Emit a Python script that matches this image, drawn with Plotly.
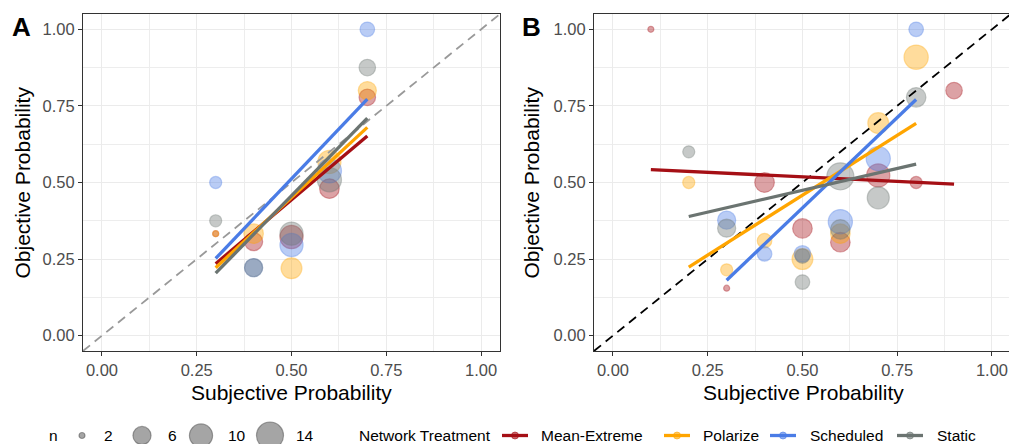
import numpy as np
import plotly.graph_objects as go

# ---------------- data ----------------
treatments = ["Mean-Extreme", "Polarize", "Scheduled", "Static"]
colors = ["#A50F15", "#FFA500", "#4A7CE6", "#6B7471"]

# Panel A (x = subjective probability, y = objective probability, n = count)
A_x = {
    "Mean-Extreme": [0.3, 0.4, 0.5, 0.6, 0.7],
    "Polarize":     [0.3, 0.4, 0.5, 0.6, 0.7],
    "Scheduled":    [0.3, 0.4, 0.5, 0.6, 0.7],
    "Static":       [0.3, 0.4, 0.5, 0.6, 0.7],
}
A_y = {
    "Mean-Extreme": [0.333, 0.307, 0.322, 0.480, 0.778],
    "Polarize":     [0.333, 0.333, 0.220, 0.567, 0.800],
    "Scheduled":    [0.500, 0.222, 0.296, 0.538, 1.000],
    "Static":       [0.375, 0.222, 0.333, 0.509, 0.875],
}
A_n = {
    "Mean-Extreme": [2, 6, 10, 7, 5],
    "Polarize":     [2, 7, 8, 10, 6],
    "Scheduled":    [3, 6, 10, 11, 4],
    "Static":       [3, 6, 10, 11, 5],
}
# fitted lines (x start, x end / y start, y end)
A_fit_x = {t: [0.3, 0.7] for t in treatments}
A_fit_y = {
    "Mean-Extreme": [0.235, 0.652],
    "Polarize":     [0.222, 0.680],
    "Scheduled":    [0.252, 0.772],
    "Static":       [0.204, 0.710],
}

# Panel B
B_x = {
    "Mean-Extreme": [0.1, 0.3, 0.4, 0.5, 0.6, 0.7, 0.8, 0.9],
    "Polarize":     [0.2, 0.3, 0.4, 0.5, 0.6, 0.7, 0.8],
    "Scheduled":    [0.3, 0.4, 0.5, 0.6, 0.7, 0.8],
    "Static":       [0.2, 0.3, 0.5, 0.5, 0.6, 0.6, 0.7, 0.8],
}
B_y = {
    "Mean-Extreme": [1.000, 0.155, 0.500, 0.350, 0.305, 0.523, 0.500, 0.800],
    "Polarize":     [0.500, 0.215, 0.310, 0.250, 0.333, 0.694, 0.909],
    "Scheduled":    [0.377, 0.267, 0.267, 0.372, 0.578, 1.000],
    "Static":       [0.600, 0.351, 0.260, 0.175, 0.520, 0.347, 0.450, 0.778],
}
B_n = {
    "Mean-Extreme": [2, 2, 7, 7, 7, 10, 3, 5],
    "Polarize":     [3, 3, 4, 8, 7, 8, 11],
    "Scheduled":    [6, 4, 5, 11, 11, 4],
    "Static":       [3, 6, 4, 4, 14, 7, 9, 7],
}
B_fit_x = {
    "Mean-Extreme": [0.1, 0.9],
    "Polarize":     [0.2, 0.8],
    "Scheduled":    [0.3, 0.8],
    "Static":       [0.2, 0.8],
}
B_fit_y = {
    "Mean-Extreme": [0.542, 0.495],
    "Polarize":     [0.224, 0.693],
    "Scheduled":    [0.181, 0.771],
    "Static":       [0.389, 0.560],
}

size_breaks = [2, 6, 10, 14]
axis_ticks = [0, 0.25, 0.5, 0.75, 1.0]
tick_labels = ["0.00", "0.25", "0.50", "0.75", "1.00"]

# ---------------- style helpers ----------------
W, H = 1009, 444
FONT = "Liberation Sans, Arial, Helvetica, sans-serif"
ALPHA = 0.6


def diam(n):
    n = np.asarray(n, dtype=float)
    return 6 + 21 * np.sqrt(np.clip(n - 2, 0, None) / 12.0)


def rgba(hexc, a):
    hexc = hexc.lstrip("#")
    r, g, b = int(hexc[0:2], 16), int(hexc[2:4], 16), int(hexc[4:6], 16)
    return f"rgba({r},{g},{b},{a})"


fig = go.Figure()

panels = [
    ("x", "y", A_x, A_y, A_n, A_fit_x, A_fit_y, "#999999"),
    ("x2", "y2", B_x, B_y, B_n, B_fit_x, B_fit_y, "#000000"),
]

for xa, ya, PX, PY, PN, FX, FY, dcol in panels:
    for t, c in zip(treatments, colors):
        fig.add_trace(go.Scatter(
            x=PX[t], y=PY[t], mode="markers", xaxis=xa, yaxis=ya,
            marker=dict(size=diam(PN[t]), color=rgba(c, ALPHA - 0.05),
                        line=dict(color=rgba(c, ALPHA - 0.05), width=1.2)),
            showlegend=False, hoverinfo="skip"))
    fig.add_trace(go.Scatter(
        x=[-0.05, 1.05], y=[-0.05, 1.05], mode="lines", xaxis=xa, yaxis=ya,
        line=dict(color=dcol, width=1.8, dash="9px,6px"),
        showlegend=False, hoverinfo="skip"))
    for t, c in zip(treatments, colors):
        fig.add_trace(go.Scatter(
            x=FX[t], y=FY[t], mode="lines", xaxis=xa, yaxis=ya,
            line=dict(color=c, width=3.3),
            showlegend=False, hoverinfo="skip"))

# ---------------- custom legend (pixel axis) ----------------
LEG_Y = 435.5
size_circle_x = [82, 142, 201, 270]
size_label_x = [102, 166, 226, 294]
key_x0 = [502, 664, 770, 897]
key_len = 26
label_x = [539, 701, 808, 935]

fig.add_trace(go.Scatter(
    x=size_circle_x, y=[LEG_Y] * 4, mode="markers", xaxis="x3", yaxis="y3",
    marker=dict(size=diam(size_breaks), color="rgba(0,0,0,0.5)",
                line=dict(color="rgba(0,0,0,0.5)", width=1.2)),
    showlegend=False, hoverinfo="skip", cliponaxis=False))
for k, (t, c) in enumerate(zip(treatments, colors)):
    fig.add_trace(go.Scatter(
        x=[key_x0[k], key_x0[k] + key_len], y=[LEG_Y, LEG_Y], mode="lines",
        xaxis="x3", yaxis="y3", line=dict(color=c, width=3.3),
        showlegend=False, hoverinfo="skip"))
    fig.add_trace(go.Scatter(
        x=[key_x0[k] + key_len / 2], y=[LEG_Y], mode="markers",
        xaxis="x3", yaxis="y3",
        marker=dict(size=7, color=rgba(c, ALPHA), line=dict(color=rgba(c, ALPHA), width=1)),
        showlegend=False, hoverinfo="skip"))

annotations = []
LEGFONT = dict(family=FONT, size=15.5, color="#000000")
annotations.append(dict(x=47, y=LEG_Y, xref="x3", yref="y3", text="n",
                        showarrow=False, xanchor="left", yanchor="middle", font=LEGFONT))
for lx, b in zip(size_label_x, size_breaks):
    annotations.append(dict(x=lx, y=LEG_Y, xref="x3", yref="y3", text=str(b),
                            showarrow=False, xanchor="left", yanchor="middle", font=LEGFONT))
annotations.append(dict(x=357, y=LEG_Y, xref="x3", yref="y3", text="Network Treatment",
                        showarrow=False, xanchor="left", yanchor="middle", font=LEGFONT))
for lx, t in zip(label_x, treatments):
    annotations.append(dict(x=lx, y=LEG_Y, xref="x3", yref="y3", text=t,
                            showarrow=False, xanchor="left", yanchor="middle", font=LEGFONT))

# axis titles and panel tags
TFONT = dict(family=FONT, size=21, color="#000000")
for cx in [291.5, 803]:
    annotations.append(dict(x=cx, y=392, xref="x3", yref="y3", text="Subjective Probability",
                            showarrow=False, xanchor="center", yanchor="middle", font=TFONT))
for cx in [22, 531]:
    annotations.append(dict(x=cx, y=182.5, xref="x3", yref="y3", text="Objective Probability",
                            textangle=-90, showarrow=False, xanchor="center", yanchor="middle",
                            font=TFONT))
for cx, lab in [(21, "A"), (531, "B")]:
    annotations.append(dict(x=cx, y=27, xref="x3", yref="y3", text=f"<b>{lab}</b>",
                            showarrow=False, xanchor="center", yanchor="middle",
                            font=dict(family=FONT, size=26, color="#000000")))

# ---------------- axes ----------------
TICKFONT = dict(family=FONT, size=16.5, color="#4D4D4D")


def ax(domain, rng, anchor):
    return dict(
        domain=domain, range=rng, anchor=anchor,
        tickmode="array", tickvals=axis_ticks, ticktext=tick_labels,
        showgrid=True, gridcolor="#EBEBEB", gridwidth=1.4,
        minor=dict(dtick=0.125, tick0=0, showgrid=True, gridcolor="#EDEDED", gridwidth=0.8),
        zeroline=False, showline=True, mirror=True, linecolor="#333333", linewidth=1.1,
        ticks="outside", ticklen=4, tickwidth=1.1, tickcolor="#333333",
        tickfont=TICKFONT, fixedrange=True, automargin=False,
    )


y_dom = [(H - 351) / H, (H - 14) / H]
fig.update_layout(
    width=W, height=H,
    margin=dict(l=0, r=0, t=0, b=0),
    paper_bgcolor="white", plot_bgcolor="rgba(0,0,0,0)",
    xaxis=ax([83 / W, 500 / W], [-0.05, 1.05], "y"),
    yaxis=ax(y_dom, [-0.05, 1.05], "x"),
    xaxis2=ax([594 / W, 1.0], [-0.05, 1.045], "y2"),
    yaxis2=ax(y_dom, [-0.05, 1.05], "x2"),
    xaxis3=dict(domain=[0, 1], range=[0, W], visible=False, fixedrange=True, anchor="y3"),
    yaxis3=dict(domain=[0, 1], range=[H, 0], visible=False, fixedrange=True, anchor="x3"),
    annotations=annotations,
    showlegend=False,
    font=dict(family=FONT),
)

fig.write_html("out.html", config={"displayModeBar": False},
               post_script="document.body.style.margin='0';document.body.style.overflow='hidden';")
